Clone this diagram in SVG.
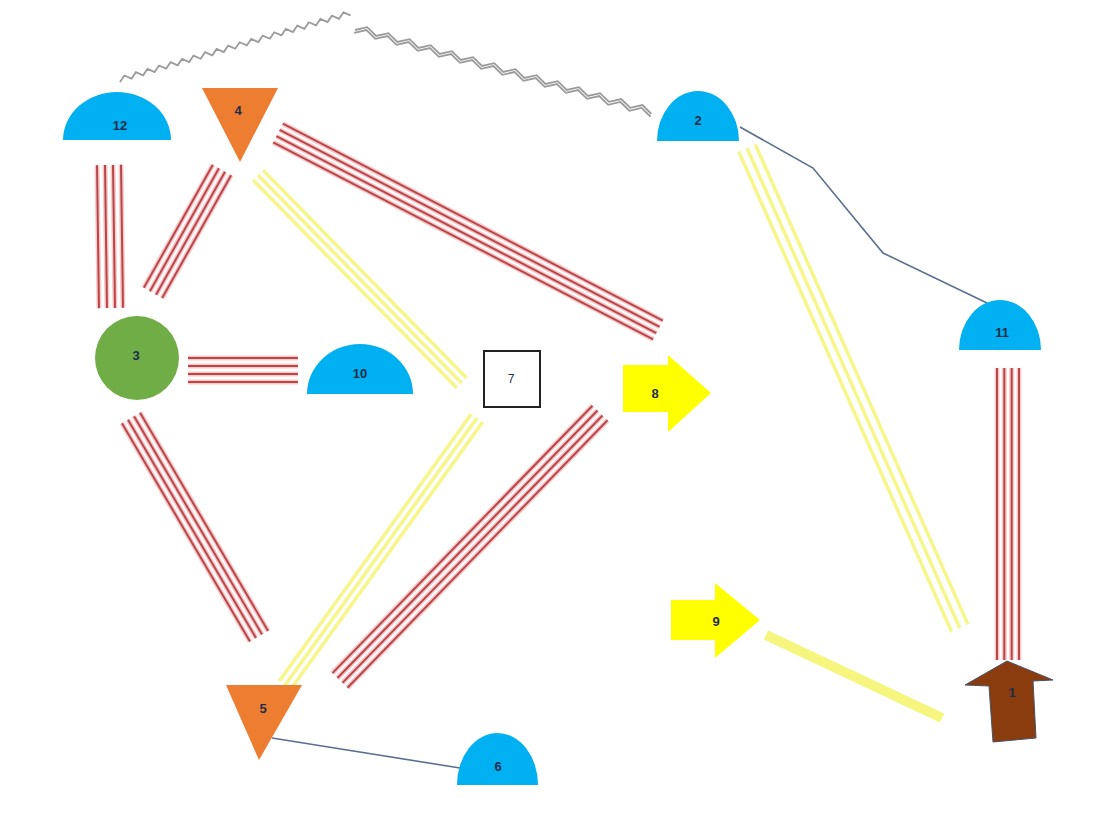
<svg xmlns="http://www.w3.org/2000/svg" width="1094" height="815" viewBox="0 0 1094 815">
<defs>
<style>
.blue{fill:#00b0f0}
.orange{fill:#ed7d31}
.lbl{font-family:"Liberation Sans",Arial,sans-serif;font-size:13px;font-weight:bold;text-anchor:middle;dominant-baseline:central;fill:#1f2d4a}
.red line{stroke:#b8474b;stroke-width:2}
.redhalo line{stroke:#f7c9c9;stroke-width:5}
.yel line{stroke:#f6f68a;stroke-width:3.5}
.thin{fill:none;stroke:#5a6f8f;stroke-width:1.6}
.zig{fill:none;stroke:#9a9a9a;stroke-width:1.8;stroke-linejoin:miter}
</style>
</defs>
<rect width="1094" height="815" fill="#ffffff"/>

<g id="connectors">
  <!-- zigzag 12-2 -->
  <g transform="translate(120,82) rotate(-16.1)">
    <path class="zig" d="M0,0 l6,-5 l6,5 l6,-5 l6,5 l6,-5 l6,5 l6,-5 l6,5 l6,-5 l6,5 l6,-5 l6,5 l6,-5 l6,5 l6,-5 l6,5 l6,-5 l6,5 l6,-5 l6,5 l6,-5 l6,5 l6,-5 l6,5 l6,-5 l6,5 l6,-5 l6,5 l6,-5 l6,5 l6,-5 l6,5 l6,-5 l6,5 l6,-5 l6,5 l6,-5 l6,5 l6,-5 l6,5"/>
  </g>
  <g transform="translate(355,30) rotate(15.8)">
    <path class="zig" d="M0,0 l11,-6 l11,6 l11,-6 l11,6 l11,-6 l11,6 l11,-6 l11,6 l11,-6 l11,6 l11,-6 l11,6 l11,-6 l11,6 l11,-6 l11,6 l11,-6 l11,6 l11,-6 l11,6 l11,-6 l11,6 l11,-6 l11,6 l11,-6 l11,6 l11,-6 l11,6"/>
    <path class="zig" d="M0,3 l11,-6 l11,6 l11,-6 l11,6 l11,-6 l11,6 l11,-6 l11,6 l11,-6 l11,6 l11,-6 l11,6 l11,-6 l11,6 l11,-6 l11,6 l11,-6 l11,6 l11,-6 l11,6 l11,-6 l11,6 l11,-6 l11,6 l11,-6 l11,6 l11,-6 l11,6"/>
  </g>

  <!-- 12-3 -->
  <g transform="translate(109,165) rotate(89.2)">
    <g class="redhalo"><line x1="0" y1="-12" x2="143" y2="-12"/><line x1="0" y1="-4" x2="143" y2="-4"/><line x1="0" y1="4" x2="143" y2="4"/><line x1="0" y1="12" x2="143" y2="12"/></g>
    <g class="red"><line x1="0" y1="-12" x2="143" y2="-12"/><line x1="0" y1="-4" x2="143" y2="-4"/><line x1="0" y1="4" x2="143" y2="4"/><line x1="0" y1="12" x2="143" y2="12"/></g>
  </g>
  <!-- 4-3 -->
  <g transform="translate(222,170) rotate(119.3)">
    <g class="redhalo"><line x1="0" y1="-10.5" x2="141" y2="-10.5"/><line x1="0" y1="-3.5" x2="141" y2="-3.5"/><line x1="0" y1="3.5" x2="141" y2="3.5"/><line x1="0" y1="10.5" x2="141" y2="10.5"/></g>
    <g class="red"><line x1="0" y1="-10.5" x2="141" y2="-10.5"/><line x1="0" y1="-3.5" x2="141" y2="-3.5"/><line x1="0" y1="3.5" x2="141" y2="3.5"/><line x1="0" y1="10.5" x2="141" y2="10.5"/></g>
  </g>
  <!-- 4-8 -->
  <g transform="translate(278,133) rotate(27.4)">
    <g class="redhalo"><line x1="0" y1="-10.5" x2="428" y2="-10.5"/><line x1="0" y1="-3.5" x2="428" y2="-3.5"/><line x1="0" y1="3.5" x2="428" y2="3.5"/><line x1="0" y1="10.5" x2="428" y2="10.5"/></g>
    <g class="red"><line x1="0" y1="-10.5" x2="428" y2="-10.5"/><line x1="0" y1="-3.5" x2="428" y2="-3.5"/><line x1="0" y1="3.5" x2="428" y2="3.5"/><line x1="0" y1="10.5" x2="428" y2="10.5"/></g>
  </g>
  <!-- 3-10 -->
  <g transform="translate(188,370)">
    <g class="redhalo"><line x1="0" y1="-12" x2="110" y2="-12"/><line x1="0" y1="-4" x2="110" y2="-4"/><line x1="0" y1="4" x2="110" y2="4"/><line x1="0" y1="12" x2="110" y2="12"/></g>
    <g class="red"><line x1="0" y1="-12" x2="110" y2="-12"/><line x1="0" y1="-4" x2="110" y2="-4"/><line x1="0" y1="4" x2="110" y2="4"/><line x1="0" y1="12" x2="110" y2="12"/></g>
  </g>
  <!-- 3-5 -->
  <g transform="translate(131,418) rotate(59.6)">
    <g class="redhalo"><line x1="0" y1="-10.5" x2="253" y2="-10.5"/><line x1="0" y1="-3.5" x2="253" y2="-3.5"/><line x1="0" y1="3.5" x2="253" y2="3.5"/><line x1="0" y1="10.5" x2="253" y2="10.5"/></g>
    <g class="red"><line x1="0" y1="-10.5" x2="253" y2="-10.5"/><line x1="0" y1="-3.5" x2="253" y2="-3.5"/><line x1="0" y1="3.5" x2="253" y2="3.5"/><line x1="0" y1="10.5" x2="253" y2="10.5"/></g>
  </g>
  <!-- 8-5 -->
  <g transform="translate(600,413) rotate(134.2)">
    <g class="redhalo"><line x1="0" y1="-10.5" x2="373" y2="-10.5"/><line x1="0" y1="-3.5" x2="373" y2="-3.5"/><line x1="0" y1="3.5" x2="373" y2="3.5"/><line x1="0" y1="10.5" x2="373" y2="10.5"/></g>
    <g class="red"><line x1="0" y1="-10.5" x2="373" y2="-10.5"/><line x1="0" y1="-3.5" x2="373" y2="-3.5"/><line x1="0" y1="3.5" x2="373" y2="3.5"/><line x1="0" y1="10.5" x2="373" y2="10.5"/></g>
  </g>
  <!-- 11-1 -->
  <g transform="translate(1008,368) rotate(90)">
    <g class="redhalo"><line x1="0" y1="-11" x2="292" y2="-11"/><line x1="0" y1="-3.7" x2="292" y2="-3.7"/><line x1="0" y1="3.7" x2="292" y2="3.7"/><line x1="0" y1="11" x2="292" y2="11"/></g>
    <g class="red"><line x1="0" y1="-11" x2="292" y2="-11"/><line x1="0" y1="-3.7" x2="292" y2="-3.7"/><line x1="0" y1="3.7" x2="292" y2="3.7"/><line x1="0" y1="11" x2="292" y2="11"/></g>
  </g>
  <!-- 4-7 yellow -->
  <g class="yel" transform="translate(258,175) rotate(45.6)">
    <line x1="0" y1="-7" x2="291" y2="-7"/><line x1="0" y1="0" x2="291" y2="0"/><line x1="0" y1="7" x2="291" y2="7"/>
  </g>
  <!-- 7-5 yellow -->
  <g class="yel" transform="translate(477,418) rotate(125.7)">
    <line x1="0" y1="-7" x2="329" y2="-7"/><line x1="0" y1="0" x2="329" y2="0"/><line x1="0" y1="7" x2="329" y2="7"/>
  </g>
  <!-- 2-1 yellow -->
  <g class="yel" transform="translate(747,148) rotate(66.1)">
    <line x1="0" y1="-9" x2="525" y2="-9"/><line x1="0" y1="0" x2="525" y2="0"/><line x1="0" y1="9" x2="525" y2="9"/>
  </g>
  <!-- 9-1 yellow thick -->
  <line x1="766" y1="635" x2="942" y2="718" stroke="#f6f67e" stroke-width="10"/>
  <!-- 2-11 -->
  <polyline class="thin" points="740,127 813,168 883,253 987,303"/>
  <!-- 5-6 -->
  <line class="thin" x1="272" y1="738" x2="460" y2="768"/>
</g>

<g id="node12"><path class="blue" d="M63,140 A54,48 0 0 1 171,140 Z"/><text class="lbl" x="120" y="125">12</text></g>
<g id="node4"><polygon class="orange" points="202,88 278,88 240,162"/><text class="lbl" x="238" y="110" fill="#3a1a00">4</text></g>
<g id="node2"><path class="blue" d="M657,141 A41,50 0 0 1 739,141 Z"/><text class="lbl" x="698" y="120">2</text></g>
<g id="node11"><path class="blue" d="M959,350 A41,50 0 0 1 1041,350 Z"/><text class="lbl" x="1002" y="332">11</text></g>
<g id="node3"><circle cx="137" cy="358" r="42" fill="#70ad47"/><text class="lbl" x="136" y="355">3</text></g>
<g id="node10"><path class="blue" d="M307,394 A53,50 0 0 1 413,394 Z"/><text class="lbl" x="360" y="373">10</text></g>
<g id="node7"><rect x="484" y="351" width="56" height="56" fill="#ffffff" stroke="#222" stroke-width="2"/><text class="lbl" x="511" y="379" style="font-weight:normal;font-size:12px">7</text></g>
<g id="node8"><polygon fill="#ffff00" points="623,365 668,365 668,355 711,393 668,432 668,412 623,412"/><text class="lbl" x="655" y="393">8</text></g>
<g id="node9"><polygon fill="#ffff00" points="671,600 715,600 715,583 760,620 715,658 715,640 671,640"/><text class="lbl" x="716" y="621">9</text></g>
<g id="node1"><polygon fill="#8a3c0e" stroke="#44546a" stroke-width="1" points="965,685 1007,661 1053,680 1033,681 1036,738 993,742 989,686"/><text class="lbl" x="1012" y="692">1</text></g>
<g id="node5"><polygon class="orange" points="226,685 302,685 259,760"/><text class="lbl" x="263" y="708" fill="#3a1a00">5</text></g>
<g id="node6"><path class="blue" d="M457,785 A40.5,52 0 0 1 538,785 Z"/><text class="lbl" x="498" y="766">6</text></g>
</svg>
